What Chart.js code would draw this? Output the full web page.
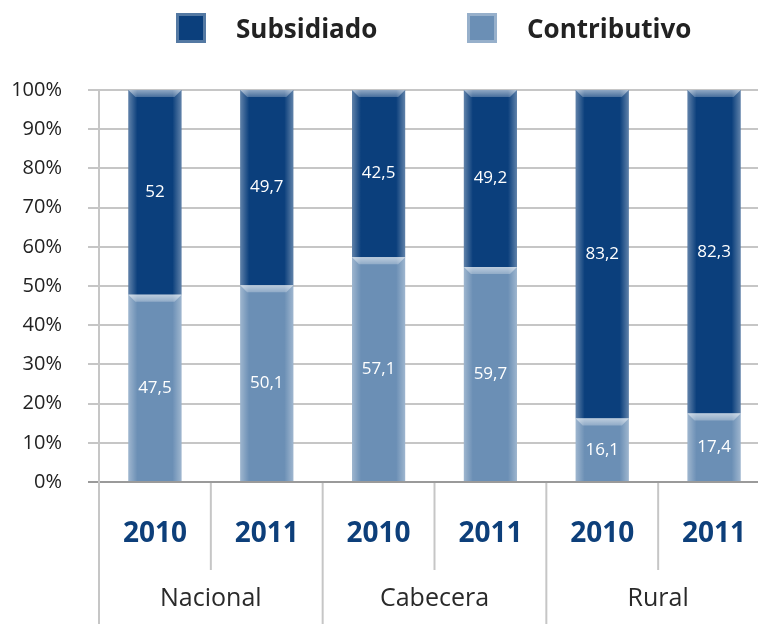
<!DOCTYPE html>
<html>
<head>
<meta charset="utf-8">
<script src="https://cdn.jsdelivr.net/npm/chart.js@4/dist/chart.umd.min.js"></script>
<style>
  html, body { margin: 0; padding: 0; background: #fff; }
  #clip { width: 758px; height: 624px; overflow: hidden; position: relative; }
  #chart_wrap { position: absolute; left: 0; top: 0; width: 772px; height: 624px; }
  #chart_salud { width: 772px; height: 624px; }
  .legend { position: absolute; top: 8px; left: 0; width: 758px; height: 40px; font-family: "Open Sans", sans-serif; }
  .item { position: absolute; top: 0; display: flex; align-items: center; height: 40px; }
  .box { width: 30px; height: 30px; margin-right: 30px; box-shadow: inset 0 0 0 3px rgba(255,255,255,0.3); }
  .lbl { font-weight: bold; font-size: 26px; color: #222; }
</style>
</head>
<body>
<div id="clip">
<div id="chart_wrap"><canvas id="chart_salud" width="772" height="624"></canvas></div>
<div class="legend">
  <div class="item" style="left:176px"><div class="box" style="background:#0b3f7c"></div><span class="lbl">Subsidiado</span></div>
  <div class="item" style="left:467px"><div class="box" style="background:#6b8fb5"></div><span class="lbl">Contributivo</span></div>
</div>
</div>
<script>
const years = ['2010', '2011', '2010', '2011', '2010', '2011'];
const groups = ['Nacional', 'Cabecera', 'Rural'];
const subsidiado = [52, 49.7, 42.5, 49.2, 83.2, 82.3];
const contributivo = [47.5, 50.1, 57.1, 59.7, 16.1, 17.4];
const yTicks = [0, 10, 20, 30, 40, 50, 60, 70, 80, 90, 100];

const darkBlue = '#0b3f7c';
const lightBlue = '#6b8fb5';
const gridGray = '#c6c6c6';

// bars are stacked to 100%, the labels keep the original values
const share = (a, b) => a.map((v, i) => v / (v + b[i]) * 100);
const contribShare = share(contributivo, subsidiado);
const subsShare = share(subsidiado, contributivo);

const bevelPlugin = {
    id: 'bevel',
    afterDatasetsDraw(chart) {
        const ctx = chart.ctx;
        chart.data.datasets.forEach((ds, di) => {
            chart.getDatasetMeta(di).data.forEach(bar => {
                const p = bar.getProps(['x', 'y', 'base', 'width'], true);
                const l = p.x - p.width / 2, r = p.x + p.width / 2;
                const top = Math.min(p.y, p.base), bot = Math.max(p.y, p.base);
                ctx.save();
                let g = ctx.createLinearGradient(l, 0, l + 9, 0);
                g.addColorStop(0, 'rgba(255,255,255,0.35)');
                g.addColorStop(1, 'rgba(255,255,255,0)');
                ctx.fillStyle = g;
                ctx.fillRect(l, top, 9, bot - top);
                g = ctx.createLinearGradient(r - 9, 0, r, 0);
                g.addColorStop(0, 'rgba(255,255,255,0)');
                g.addColorStop(1, 'rgba(255,255,255,0.35)');
                ctx.fillStyle = g;
                ctx.fillRect(r - 9, top, 9, bot - top);
                g = ctx.createLinearGradient(0, top, 0, top + 7);
                g.addColorStop(0, 'rgba(255,255,255,0.55)');
                g.addColorStop(1, 'rgba(255,255,255,0.25)');
                ctx.fillStyle = g;
                ctx.beginPath();
                ctx.moveTo(l, top);
                ctx.lineTo(r, top);
                ctx.lineTo(r - 7, top + 7);
                ctx.lineTo(l + 7, top + 7);
                ctx.closePath();
                ctx.fill();
                ctx.restore();
            });
        });
    }
};

const valueLabels = {
    id: 'valueLabels',
    afterDatasetsDraw(chart) {
        const ctx = chart.ctx;
        const raws = [contributivo, subsidiado];
        ctx.save();
        ctx.font = '17px "Open Sans"';
        ctx.fillStyle = '#ffffff';
        ctx.textAlign = 'center';
        ctx.textBaseline = 'middle';
        chart.data.datasets.forEach((ds, di) => {
            chart.getDatasetMeta(di).data.forEach((bar, i) => {
                const p = bar.getProps(['x', 'y', 'base'], true);
                ctx.fillText(String(raws[di][i]).replace('.', ','), p.x, (p.y + p.base) / 2);
            });
        });
        ctx.restore();
    }
};

const separators = {
    id: 'separators',
    afterDraw(chart) {
        const ctx = chart.ctx;
        const x = chart.scales.x;
        const bottom = chart.chartArea.bottom;
        const half = (x.getPixelForValue(1) - x.getPixelForValue(0)) / 2;
        ctx.save();
        ctx.strokeStyle = gridGray;
        ctx.lineWidth = 2;
        years.forEach((y, i) => {
            const px = x.getPixelForValue(i) - half;
            const isGroup = i % 2 === 0;
            ctx.beginPath();
            ctx.moveTo(px, bottom + 1);
            ctx.lineTo(px, isGroup ? chart.height : bottom + 88);
            ctx.stroke();
        });
        ctx.restore();
    }
};

const chartConfig = {
    type: 'bar',
    data: {
        labels: years,
        datasets: [
            { label: 'Contributivo', data: contribShare, backgroundColor: lightBlue },
            { label: 'Subsidiado', data: subsShare, backgroundColor: darkBlue }
        ]
    },
    options: {
        responsive: false,
        animation: false,
        devicePixelRatio: 1,
        layout: { padding: { top: 90, right: 2, left: 0, bottom: 0 } },
        datasets: { bar: { categoryPercentage: 1, barPercentage: 0.475 } },
        plugins: {
            legend: { display: false },
            tooltip: { enabled: false }
        },
        scales: {
            x: {
                stacked: true,
                // invisible tick marks push the year labels down without adding side padding
                grid: { display: true, drawOnChartArea: false, drawTicks: true, tickLength: 35, tickColor: 'rgba(0,0,0,0)' },
                border: { display: true, color: '#9a9a9a', width: 2, dash: [4, 3] },
                ticks: { padding: 0, color: '#0d3f7a', font: { family: 'Open Sans', size: 28, weight: 'bold' } },
                afterFit(scale) { scale.height = 88; }
            },
            x2: {
                type: 'category',
                labels: groups,
                position: 'bottom',
                offset: true,
                grid: { display: false, drawTicks: false },
                border: { display: false },
                ticks: { padding: 14, color: '#2a2a2a', font: { family: 'Open Sans', size: 25 } },
                afterFit(scale) { scale.height = 54; }
            },
            y: {
                stacked: true,
                min: 0,
                max: 100,
                afterBuildTicks(scale) { scale.ticks = yTicks.map(v => ({ value: v })); },
                grid: {
                    color: c => c.tick && c.tick.value === 0 ? 'rgba(0,0,0,0)' : gridGray,
                    tickColor: c => c.tick && c.tick.value === 0 ? '#9a9a9a' : gridGray,
                    lineWidth: 2,
                    tickLength: 11
                },
                border: { display: true, color: gridGray, width: 2 },
                ticks: { padding: 26, color: '#222', font: { family: 'Open Sans', size: 20 }, callback: v => v + '%' },
                afterFit(scale) { scale.width = 99; }
            }
        }
    },
    plugins: [bevelPlugin, valueLabels, separators]
};

new Chart(document.getElementById('chart_salud'), chartConfig);
</script>
</body>
</html>
